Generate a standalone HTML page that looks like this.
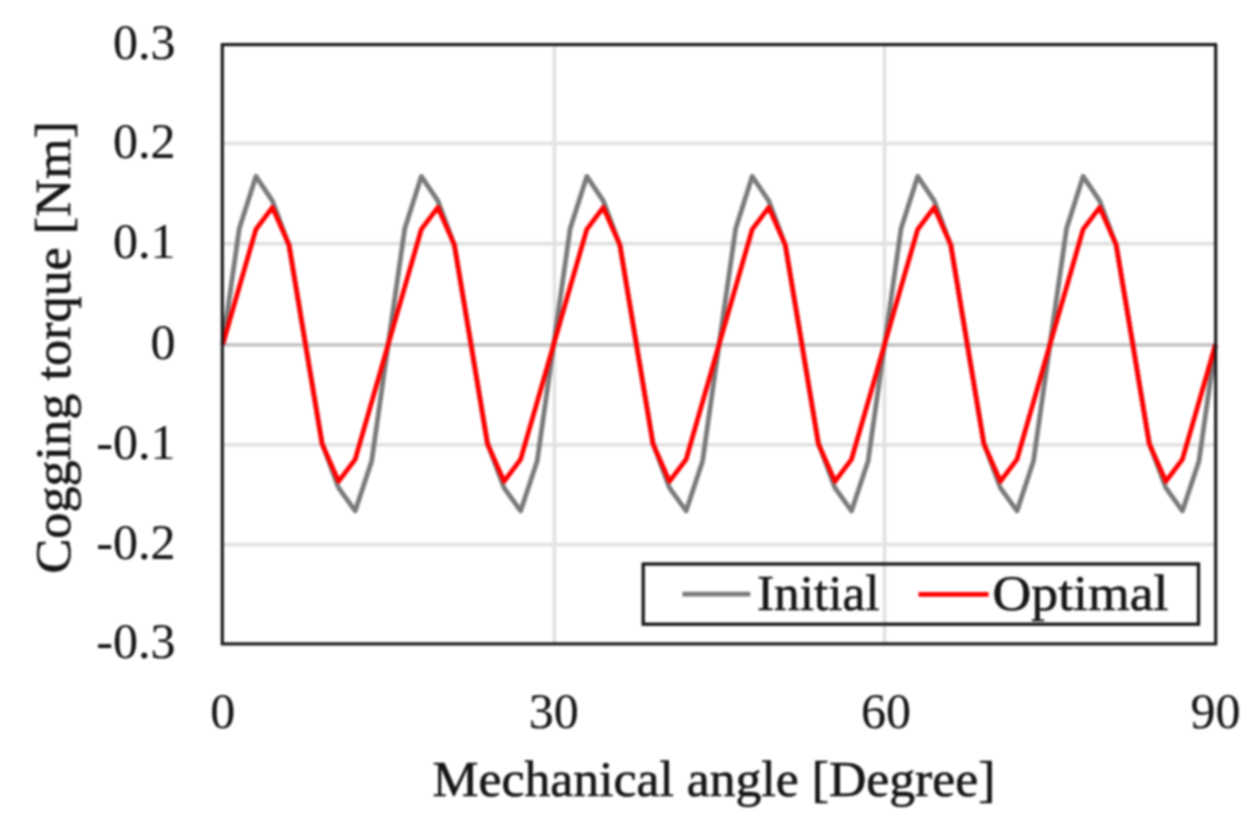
<!DOCTYPE html>
<html><head><meta charset="utf-8"><style>
html,body{margin:0;padding:0;background:#fff;}
svg{display:block;filter:blur(0.9px);}
</style></head><body>
<svg width="1259" height="830" viewBox="0 0 1259 830">
<rect width="1259" height="830" fill="#fff"/>
<g stroke="#e1e1e1" stroke-width="3.6" fill="none">
<line x1="222" y1="143.5" x2="1216" y2="143.5"/>
<line x1="222" y1="243.6" x2="1216" y2="243.6"/>
<line x1="222" y1="444.8" x2="1216" y2="444.8"/>
<line x1="222" y1="544.5" x2="1216" y2="544.5"/>
<line x1="554.5" y1="44.6" x2="554.5" y2="644"/>
<line x1="884.5" y1="44.6" x2="884.5" y2="644"/>
</g>
<line x1="222" y1="344.9" x2="1216" y2="344.9" stroke="#c6c6c6" stroke-width="3.8"/>
<polyline points="222.8,344.4 239.3,228.4 255.9,176.4 272.4,200.9 289.0,245.4 305.5,344.4 322.1,443.4 338.6,487.9 355.2,510.9 371.7,460.9 388.2,344.4 404.8,228.4 421.3,176.4 437.9,200.9 454.4,245.4 471.0,344.4 487.5,443.4 504.1,487.9 520.6,510.9 537.2,460.9 553.7,344.4 570.2,228.4 586.8,176.4 603.3,200.9 619.9,245.4 636.4,344.4 653.0,443.4 669.5,487.9 686.1,510.9 702.6,460.9 719.1,344.4 735.7,228.4 752.2,176.4 768.8,200.9 785.3,245.4 801.9,344.4 818.4,443.4 835.0,487.9 851.5,510.9 868.1,460.9 884.6,344.4 901.1,228.4 917.7,176.4 934.2,200.9 950.8,245.4 967.3,344.4 983.9,443.4 1000.4,487.9 1017.0,510.9 1033.5,460.9 1050.0,344.4 1066.6,228.4 1083.1,176.4 1099.7,200.9 1116.2,245.4 1132.8,344.4 1149.3,443.4 1165.9,487.9 1182.4,510.9 1199.0,460.9 1215.5,344.4" fill="none" stroke="#7a7a7a" stroke-width="4.8" stroke-linejoin="round"/>
<polyline points="222.8,344.4 239.3,286.9 255.9,229.4 272.4,207.4 289.0,244.9 305.5,344.4 322.1,443.9 338.6,481.4 355.2,459.4 371.7,401.9 388.2,344.4 404.8,286.9 421.3,229.4 437.9,207.4 454.4,244.9 471.0,344.4 487.5,443.9 504.1,481.4 520.6,459.4 537.2,401.9 553.7,344.4 570.2,286.9 586.8,229.4 603.3,207.4 619.9,244.9 636.4,344.4 653.0,443.9 669.5,481.4 686.1,459.4 702.6,401.9 719.1,344.4 735.7,286.9 752.2,229.4 768.8,207.4 785.3,244.9 801.9,344.4 818.4,443.9 835.0,481.4 851.5,459.4 868.1,401.9 884.6,344.4 901.1,286.9 917.7,229.4 934.2,207.4 950.8,244.9 967.3,344.4 983.9,443.9 1000.4,481.4 1017.0,459.4 1033.5,401.9 1050.0,344.4 1066.6,286.9 1083.1,229.4 1099.7,207.4 1116.2,244.9 1132.8,344.4 1149.3,443.9 1165.9,481.4 1182.4,459.4 1199.0,401.9 1215.5,344.4" fill="none" stroke="#ff0000" stroke-width="4.8" stroke-linejoin="round"/>
<rect x="222.3" y="44.6" width="993.4" height="599.3" fill="none" stroke="#151515" stroke-width="3.1"/>
<rect x="643.2" y="564" width="555.3" height="60.2" fill="none" stroke="#151515" stroke-width="3.3"/>
<line x1="682.4" y1="594.2" x2="750.3" y2="594.2" stroke="#7a7a7a" stroke-width="4.8"/>
<line x1="918.5" y1="594.3" x2="988.6" y2="594.3" stroke="#ff0000" stroke-width="4.8"/>
<g font-family="Liberation Serif, serif" font-size="50" fill="#151515" stroke="#151515" stroke-width="0.6">
<text x="757" y="609.8" textLength="122.5" lengthAdjust="spacingAndGlyphs">Initial</text>
<text x="992.5" y="610.3" textLength="176" lengthAdjust="spacingAndGlyphs">Optimal</text>
<text x="432.5" y="795.5" textLength="563" lengthAdjust="spacingAndGlyphs">Mechanical angle [Degree]</text>
<text transform="translate(69.5,347.3) rotate(-90)" text-anchor="middle" textLength="452.5" lengthAdjust="spacingAndGlyphs">Cogging torque [Nm]</text>
</g>
<g font-family="Liberation Serif, serif" font-size="50" fill="#151515" stroke="#151515" stroke-width="0.15">
<text x="175.5" y="58.6" text-anchor="end">0.3</text>
<text x="175.5" y="157.5" text-anchor="end">0.2</text>
<text x="175.5" y="257.6" text-anchor="end">0.1</text>
<text x="175.5" y="358.5" text-anchor="end">0</text>
<text x="175.5" y="458.8" text-anchor="end">-0.1</text>
<text x="175.5" y="558.5" text-anchor="end">-0.2</text>
<text x="175.5" y="658.0" text-anchor="end">-0.3</text>
<text x="222.8" y="728.3" text-anchor="middle">0</text>
<text x="553.8" y="728.3" text-anchor="middle">30</text>
<text x="886.0" y="728.3" text-anchor="middle">60</text>
<text x="1215.6" y="728.3" text-anchor="middle">90</text>
</g>
</svg>
</body></html>
